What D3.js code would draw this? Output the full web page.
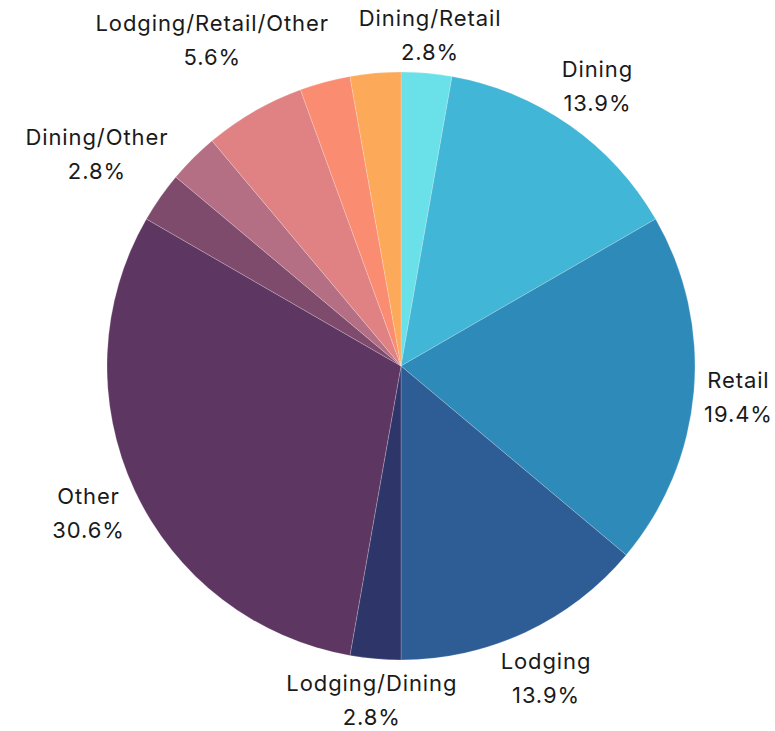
<!DOCTYPE html>
<html>
<head>
<meta charset="utf-8">
<script src="https://cdn.jsdelivr.net/npm/d3@7"></script>
<style>
  body { margin: 0; background: #ffffff; }
  svg text { font-family: Inter, "Open Sans", sans-serif; font-size: 22px; fill: #1a1a1a; letter-spacing: 0.9px; }
</style>
</head>
<body>
<div id="chart"></div>
<script>
// slices clockwise from 12 o'clock; counts out of 36 respondents
const categories = ["Dining/Retail", "Dining", "Retail", "Lodging", "Lodging/Dining", "Other",
                    "Dining/Other", "Lodging/Other", "Lodging/Retail/Other", "Retail/Other", "Dining/Lodging"];
const counts = [1, 5, 7, 5, 1, 11, 1, 1, 2, 1, 1];
const showLabel = [true, true, true, true, true, true, true, false, true, false, false];
const colors = ["#6ae1e8", "#42b6d6", "#2e8bb9", "#2e5d96", "#2e3568", "#5e3662",
                "#7f4b6d", "#b56f84", "#e08283", "#fa8c72", "#fca95a"];

const width = 775, height = 731;
const cx = 401, cy = 366, radius = 294;
const labelGap = 12;

const total = d3.sum(counts);
const data = categories.map((c, i) => ({
    name: c, value: counts[i], color: colors[i], show: showLabel[i],
    pct: (counts[i] / total * 100).toFixed(1) + "%"
}));

const svg = d3.select("#chart").append("svg")
    .attr("width", width)
    .attr("height", height);

const g = svg.append("g").attr("transform", `translate(${cx},${cy})`);

const pie = d3.pie().value(d => d.value).sort(null);
const arc = d3.arc().innerRadius(0).outerRadius(radius);
const arcs = pie(data);

g.selectAll("path.slice")
    .data(arcs)
    .join("path")
    .attr("class", "slice")
    .attr("d", arc)
    .attr("fill", d => d.data.color)
    .attr("stroke", "rgba(255,255,255,0.3)")
    .attr("stroke-width", 0.7);

// --- Labels: two lines, pushed out so the text block clears the pie ---
const labels = g.selectAll("g.label")
    .data(arcs.filter(d => d.data.show))
    .join("g")
    .attr("class", "label");

labels.append("text").attr("class", "l1").attr("text-anchor", "middle").text(d => d.data.name);
labels.append("text").attr("class", "l2").attr("text-anchor", "middle").text(d => d.data.pct);

labels.each(function(d) {
    const grp = d3.select(this);
    const w1 = grp.select(".l1").node().getComputedTextLength();
    const w2 = grp.select(".l2").node().getComputedTextLength();
    const hw = Math.max(w1, w2) / 2;
    const hh = 22;
    const a = (d.startAngle + d.endAngle) / 2;
    const sx = Math.sin(a), sy = -Math.cos(a);
    const dist = radius + labelGap + Math.abs(sx) * hw * 0.9 + Math.abs(sy) * hh;
    const x = sx * dist, y = sy * dist;
    grp.select(".l1").attr("x", x).attr("y", y - 8);
    grp.select(".l2").attr("x", x).attr("y", y + 26);
});
</script>
</body>
</html>
